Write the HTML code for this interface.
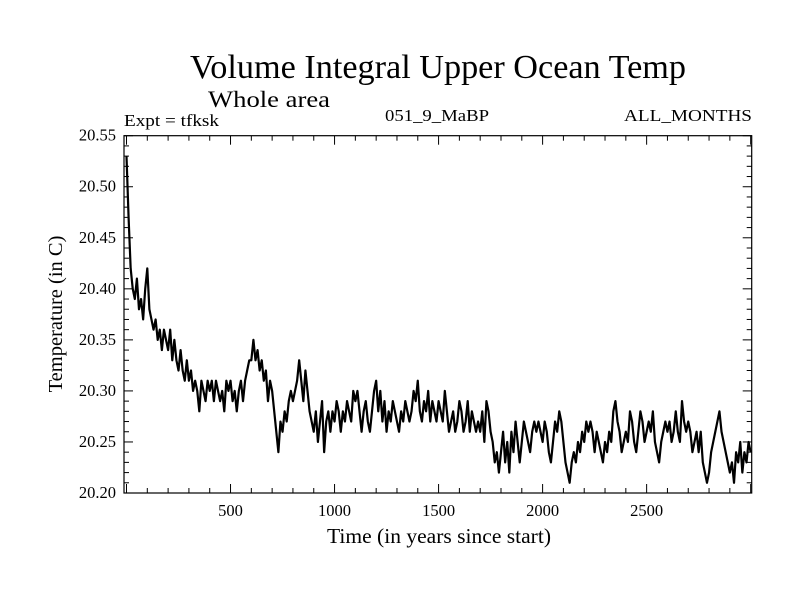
<!DOCTYPE html>
<html><head><meta charset="utf-8"><style>
body{margin:0;background:#fff}
svg text{font-family:"Liberation Serif",serif;fill:#000}
</style></head><body>
<svg id="chart" width="800" height="600" xmlns="http://www.w3.org/2000/svg">
<text x="438" y="78" font-size="34" text-anchor="middle" textLength="496" lengthAdjust="spacingAndGlyphs">Volume Integral Upper Ocean Temp</text>
<text x="208" y="107" font-size="23" textLength="122" lengthAdjust="spacingAndGlyphs">Whole area</text>
<text x="124" y="126" font-size="17" textLength="95" lengthAdjust="spacingAndGlyphs">Expt = tfksk</text>
<text x="437" y="121" font-size="17" text-anchor="middle" textLength="104" lengthAdjust="spacingAndGlyphs">051_9_MaBP</text>
<text x="752" y="121" font-size="17" text-anchor="end" textLength="128" lengthAdjust="spacingAndGlyphs">ALL_MONTHS</text>
<text transform="translate(62,314) rotate(-90)" font-size="20.5" text-anchor="middle">Temperature (in C)</text>
<text x="439" y="543" font-size="21" text-anchor="middle" textLength="224" lengthAdjust="spacingAndGlyphs">Time (in years since start)</text>
<g id="axes"></g>
<path id="series" fill="none" stroke="#000" stroke-width="2.2" stroke-linejoin="round"/>
<rect x="124" y="135.7" width="627.7" height="357.3" fill="none" stroke="#000" stroke-width="1.2"/>
</svg>
<script>
const years0 = 0, yearStep = 10;
const temps = [
20.53,20.47,20.42,20.40,20.39,20.41,20.38,20.39,20.37,20.40,
20.42,20.38,20.37,20.36,20.37,20.35,20.36,20.34,20.36,20.35,
20.34,20.36,20.33,20.35,20.33,20.32,20.34,20.32,20.31,20.33,
20.31,20.32,20.30,20.31,20.30,20.28,20.31,20.30,20.29,20.31,
20.30,20.31,20.29,20.31,20.30,20.29,20.30,20.28,20.31,20.30,
20.31,20.29,20.30,20.28,20.30,20.31,20.29,20.31,20.32,20.33,
20.33,20.35,20.33,20.34,20.32,20.33,20.31,20.32,20.29,20.31,
20.30,20.28,20.26,20.24,20.27,20.26,20.28,20.27,20.29,20.30,
20.29,20.30,20.31,20.33,20.31,20.29,20.32,20.30,20.28,20.27,
20.26,20.28,20.25,20.27,20.29,20.24,20.27,20.28,20.26,20.28,
20.27,20.29,20.28,20.26,20.28,20.27,20.29,20.28,20.27,20.30,
20.29,20.30,20.28,20.26,20.28,20.29,20.27,20.26,20.28,20.30,
20.31,20.28,20.30,20.27,20.29,20.26,20.28,20.27,20.29,20.28,
20.27,20.26,20.28,20.27,20.29,20.28,20.27,20.28,20.30,20.29,
20.31,20.28,20.27,20.29,20.28,20.30,20.27,20.29,20.28,20.27,
20.29,20.28,20.27,20.30,20.28,20.26,20.27,20.28,20.26,20.27,
20.29,20.28,20.26,20.27,20.29,20.26,20.28,20.27,20.26,20.27,
20.26,20.28,20.25,20.29,20.28,20.26,20.25,20.23,20.24,20.22,
20.24,20.26,20.23,20.25,20.22,20.26,20.24,20.27,20.25,20.23,
20.25,20.27,20.26,20.25,20.24,20.26,20.27,20.26,20.27,20.26,
20.25,20.27,20.26,20.24,20.23,20.25,20.27,20.26,20.28,20.27,
20.25,20.23,20.22,20.21,20.23,20.24,20.23,20.25,20.24,20.26,
20.25,20.27,20.26,20.27,20.26,20.24,20.26,20.25,20.24,20.23,
20.25,20.24,20.26,20.25,20.28,20.29,20.27,20.26,20.24,20.25,
20.26,20.25,20.28,20.27,20.25,20.24,20.26,20.28,20.27,20.25,
20.26,20.27,20.26,20.28,20.25,20.24,20.23,20.25,20.26,20.27,
20.26,20.27,20.25,20.26,20.28,20.26,20.25,20.29,20.27,20.26,
20.27,20.26,20.24,20.25,20.26,20.24,20.26,20.23,20.22,20.21,
20.22,20.24,20.25,20.26,20.27,20.28,20.26,20.25,20.24,20.23,
20.22,20.23,20.21,20.24,20.23,20.25,20.22,20.24,20.23,20.25,
20.24];
const xTickLabels = ["500","1000","1500","2000","2500"];
const yTickLabels = ["20.20","20.25","20.30","20.35","20.40","20.45","20.50","20.55"];

const L=124,R=751.7,T=135.7,B=493;
const xMin=-12,xMax=3005,yMin=20.20,yMax=20.55;
const sx=v=>L+(v-xMin)/(xMax-xMin)*(R-L);
const sy=v=>B-(v-yMin)/(yMax-yMin)*(B-T);
const NS="http://www.w3.org/2000/svg";
const axes=document.getElementById('axes');
function line(x1,y1,x2,y2,name){const l=document.createElementNS(NS,'line');
l.setAttribute('x1',x1);l.setAttribute('y1',y1);l.setAttribute('x2',x2);l.setAttribute('y2',y2);
l.setAttribute('stroke','#000');l.setAttribute('stroke-width','1');


axes.appendChild(l);}
function text(x,y,s,anchor,name){const t=document.createElementNS(NS,'text');
t.setAttribute('x',x);t.setAttribute('y',y);t.setAttribute('font-size','16.5');t.setAttribute('text-anchor',anchor);t.textContent=s;


axes.appendChild(t);}
for(let v=0;v<=3000;v+=100){const x=sx(v);const len=(v%500===0)?9:5;
line(x,B,x,B-len,'x-tick');line(x,T,x,T+len,'x-tick-top');}
xTickLabels.forEach(s=>text(sx(+s),B+23,s,'middle','x-tick-label'));
for(let i=0;i<=35;i++){const v=yMin+i*0.01;const y=sy(v);const len=(i%5===0)?9:5;
line(L,y,L+len,y,'y-tick');line(R,y,R-len,y,'y-tick-right');}
yTickLabels.forEach(s=>text(L-8,sy(+s)+5,s,'end','y-tick-label'));
let d='';temps.forEach((v,i)=>{d+=(i?'L':'M')+sx(years0+i*yearStep).toFixed(2)+','+sy(v).toFixed(2);});
document.getElementById('series').setAttribute('d',d);
</script>
</body></html>
